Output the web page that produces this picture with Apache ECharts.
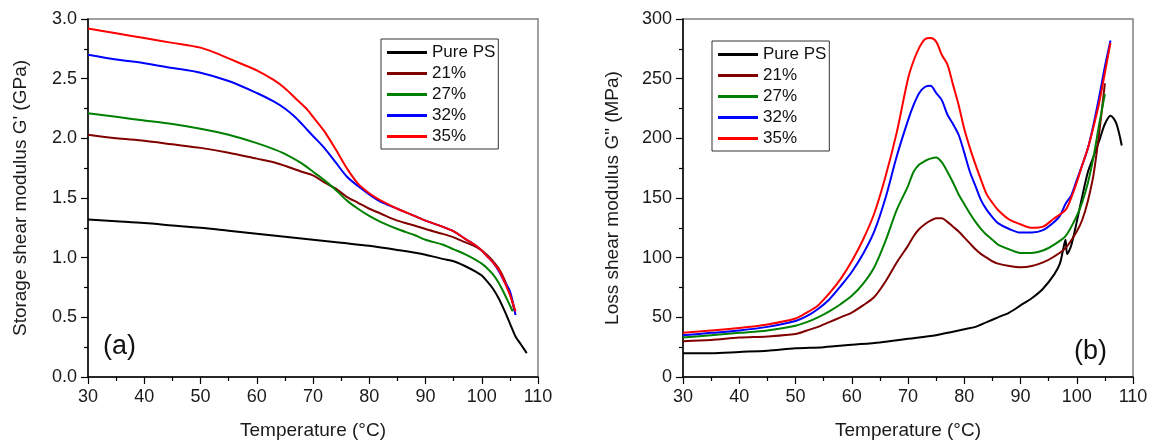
<!DOCTYPE html>
<html><head><meta charset="utf-8">
<script src="https://cdn.jsdelivr.net/npm/echarts@6/dist/echarts.min.js"></script>
<style>html,body{margin:0;padding:0;background:#fff}#c{width:1152px;height:445px}</style>
</head><body><div id="c"></div>
<script>
const seriesNames = ['Pure PS','21%','27%','32%','35%'];
const colors = ['#000000','#800000','#008000','#0000ff','#ff0000'];
const xTicks = [30,40,50,60,70,80,90,100,110];

// Panel (a): storage shear modulus G' (GPa)
const tA_pure = [30,35,40,45,50,55,60,65,70,75,80,85,90,93,95,97,99,100,101,102,103,104,105,106,107,108];
const gA_pure = [1.32,1.305,1.29,1.27,1.25,1.225,1.20,1.175,1.15,1.125,1.10,1.065,1.025,0.99,0.97,0.93,0.88,0.85,0.80,0.74,0.66,0.56,0.45,0.34,0.27,0.20];
const tA_21 = [30,35,40,45,50,55,60,63,65,68,70,72,74,76,78,80,82,85,88,90,93,95,97,99,101,102,103,104,105,105.8];
const gA_21 = [2.03,2.0,1.98,1.95,1.92,1.88,1.83,1.80,1.77,1.72,1.69,1.63,1.58,1.51,1.46,1.41,1.37,1.31,1.27,1.24,1.20,1.17,1.13,1.09,1.02,0.97,0.91,0.82,0.70,0.56];
const tA_27 = [30,35,40,45,50,55,60,63,65,68,70,72,74,76,78,80,82,85,88,90,93,95,97,99,100,101,102,103,104,105,105.5];
const gA_27 = [2.21,2.18,2.15,2.12,2.08,2.03,1.96,1.91,1.87,1.79,1.72,1.65,1.57,1.48,1.41,1.35,1.30,1.24,1.19,1.15,1.11,1.07,1.03,0.98,0.95,0.91,0.86,0.79,0.70,0.60,0.55];
const tA_32 = [30,35,40,45,50,55,60,63,65,67,69,70,72,74,76,78,80,82,85,88,90,93,95,97,99,100,101,102,103,104,105,106];
const gA_32 = [2.70,2.66,2.63,2.59,2.55,2.48,2.38,2.31,2.25,2.17,2.07,2.02,1.92,1.80,1.68,1.60,1.53,1.47,1.41,1.35,1.31,1.26,1.22,1.16,1.10,1.06,1.01,0.96,0.89,0.80,0.72,0.52];
const tA_35 = [30,35,40,45,50,53,55,58,60,63,65,67,69,70,72,74,76,78,80,82,85,88,90,93,95,97,99,100,101,102,103,104,105,106];
const gA_35 = [2.92,2.88,2.84,2.80,2.76,2.71,2.67,2.61,2.57,2.49,2.42,2.33,2.24,2.18,2.06,1.91,1.75,1.62,1.54,1.48,1.41,1.35,1.31,1.26,1.22,1.16,1.10,1.06,1.01,0.96,0.90,0.80,0.69,0.55];

// Panel (b): loss shear modulus G'' (MPa)
const tB_pure = [30,35,40,45,50,55,60,65,70,75,78,80,82,84,86,88,90,92,94,96,97,97.5,98,98.3,99,100,101,102,103,104,105,106,107,108];
const gB_pure = [20,20,21,22,24,25,27,29,32,35,38,40,42,46,50,54,60,66,74,86,95,105,115,103,110,130,152,172,185,198,212,219,213,194];
const tB_21 = [30,35,40,45,50,52,54,56,58,60,62,64,66,68,70,71,72,73,74,75,76,77,78,79,80,81,82,83,84,85,86,88,90,92,94,96,98,100,101,102,103,104,105];
const gB_21 = [30,31,33,34,36,39,42,46,50,54,60,67,80,96,110,118,124,128,131,133,133,130,126,122,117,112,107,103,100,97,95,93,92,93,96,101,108,122,132,148,170,205,246];
const tB_27 = [30,35,40,45,50,52,54,56,58,60,62,64,66,68,70,71,72,73,74,75,76,77,78,79,80,81,82,83,84,85,86,88,90,92,94,96,98,100,101,102,103,104,105];
const gB_27 = [33,35,37,39,43,46,50,55,61,68,78,92,114,140,160,172,178,181,183,184,180,172,163,153,145,137,130,124,119,115,111,107,104,104,106,111,118,135,147,163,185,212,237];
const tB_32 = [30,35,40,45,50,52,54,56,58,60,62,64,66,68,70,71,72,73,74,75,76,77,78,79,80,81,82,83,84,85,86,88,90,92,94,96,97,98,99,100,101,102,103,104,105,106];
const gB_32 = [35,37,39,42,47,51,57,65,76,88,103,122,150,185,215,228,238,243,244,238,232,220,212,203,188,172,160,148,140,134,129,124,121,121,123,130,135,145,152,165,178,192,212,235,260,282];
const tB_35 = [30,35,40,45,50,52,54,56,58,60,62,64,66,68,70,71,72,73,74,75,76,77,78,79,80,81,82,83,84,85,86,88,90,92,94,96,98,99,100,101,102,103,104,105,106];
const gB_35 = [37,39,41,44,49,54,60,70,82,97,115,137,168,205,250,265,276,283,284,281,270,262,245,228,208,192,178,165,153,146,140,132,128,125,126,133,140,150,163,178,192,210,230,255,280];

const zip = (xs, ys) => xs.map((x, i) => [x, ys[i]]);
const panelA = [[tA_pure,gA_pure],[tA_21,gA_21],[tA_27,gA_27],[tA_32,gA_32],[tA_35,gA_35]];
const panelB = [[tB_pure,gB_pure],[tB_21,gB_21],[tB_27,gB_27],[tB_32,gB_32],[tB_35,gB_35]];

const FONT = 'Liberation Sans';
const labelStyle = {color:'#1a1a1a', fontSize:18, fontFamily:FONT};
function xAxis(gi){
  return {type:'value', gridIndex:gi, min:30, max:110, interval:10,
    name:'Temperature (°C)', nameLocation:'middle', nameGap:44,
    nameTextStyle:{color:'#1a1a1a', fontSize:19, fontFamily:FONT},
    axisLine:{onZero:false, lineStyle:{color:'#000', width:1.5}},
    axisTick:{inside:false, length:7, lineStyle:{color:'#000', width:1.2}},
    minorTick:{show:true, splitNumber:2, length:4, lineStyle:{color:'#000', width:1.2}},
    axisLabel:{...labelStyle, margin:11, formatter:v=>String(v)},
    splitLine:{show:false}};
}
function yAxis(gi, max, interval, name, gap, fmt){
  return {type:'value', gridIndex:gi, min:0, max:max, interval:interval,
    name:name, nameLocation:'middle', nameGap:gap, nameRotate:90,
    nameTextStyle:{color:'#1a1a1a', fontSize:19, fontFamily:FONT},
    axisLine:{show:true, onZero:false, lineStyle:{color:'#000', width:1.5}},
    axisTick:{inside:false, length:7, lineStyle:{color:'#000', width:1.2}},
    minorTick:{show:true, splitNumber:2, length:4, lineStyle:{color:'#000', width:1.2}},
    axisLabel:{...labelStyle, margin:11, formatter:fmt},
    splitLine:{show:false}};
}
const series = [];
panelA.forEach((d,i)=>series.push({name:seriesNames[i], type:'line', xAxisIndex:0, yAxisIndex:0,
  data:zip(d[0],d[1]), showSymbol:false, smooth:0.3, lineStyle:{width:2, color:colors[i]}, itemStyle:{color:colors[i]}, z:2+i, animation:false}));
panelB.forEach((d,i)=>series.push({name:seriesNames[i], type:'line', xAxisIndex:1, yAxisIndex:1,
  data:zip(d[0],d[1]), showSymbol:false, smooth:0.3, lineStyle:{width:2, color:colors[i]}, itemStyle:{color:colors[i]}, z:2+i, animation:false}));

function legend(left, top){
  return {orient:'vertical', left:left, top:top, data:seriesNames, icon:'rect', itemWidth:40, itemHeight:3,
    itemGap:4, padding:[5,3,4,6], borderColor:'#333', borderWidth:1, backgroundColor:'#fff',
    textStyle:{color:'#111', fontSize:17, fontFamily:FONT, lineHeight:17}, selectedMode:false};
}

const chart = echarts.init(document.getElementById('c'), null, {renderer:'canvas'});
chart.setOption({
  animation:false,
  backgroundColor:'#fff',
  grid:[
    {left:88, top:19, width:450, height:363, show:true, borderColor:'#808080', borderWidth:1.5, backgroundColor:'transparent'},
    {left:683, top:19, width:450, height:363, show:true, borderColor:'#808080', borderWidth:1.5, backgroundColor:'transparent'}
  ],
  xAxis:[xAxis(0), xAxis(1)],
  yAxis:[
    yAxis(0, 3.0, 0.5, "Storage shear modulus G' (GPa)", 58, v=>v.toFixed(1)),
    yAxis(1, 300, 50, 'Loss shear modulus G" (MPa)', 61, v=>String(v))
  ],
  legend:[legend(381,39), legend(712,41)],
  graphic:[
    {type:'text', left:103, top:333, style:{text:'(a)', fontSize:27, fontFamily:FONT, fill:'#111'}},
    {type:'text', left:1074, top:338, style:{text:'(b)', fontSize:27, fontFamily:FONT, fill:'#111'}}
  ],
  series:series
});
</script></body></html>
